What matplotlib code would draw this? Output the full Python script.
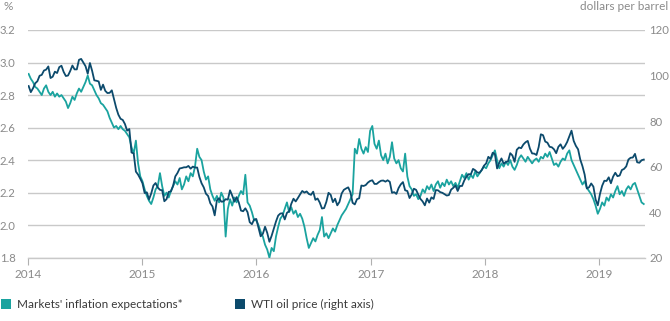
import pandas as pd
import matplotlib.pyplot as plt
import matplotlib.dates as mdates
from matplotlib.patches import Rectangle

plt.rcParams['font.family'] = ['Lato', 'DejaVu Sans']

TEAL = "#1aa39f"
NAVY = "#0c4a6c"
GRID = "#c9c9c9"
TICK = "#8a8a8a"

# weekly readings (Fridays), market-implied inflation expectations, %
infl_2014 = [2.93, 2.90, 2.88, 2.85, 2.84, 2.82, 2.80, 2.84, 2.86, 2.82, 2.80, 2.82, 2.79,
             2.81, 2.79, 2.80, 2.78, 2.76, 2.72, 2.75, 2.79, 2.77, 2.81, 2.84, 2.82, 2.85,
             2.88, 2.92, 2.87, 2.86, 2.83, 2.80, 2.78, 2.75, 2.74, 2.72, 2.70, 2.66, 2.63,
             2.60, 2.61, 2.59, 2.61, 2.59, 2.58, 2.56, 2.54, 2.48, 2.44, 2.52, 2.38, 2.30]
infl_2015 = [2.27, 2.22, 2.18, 2.15, 2.13, 2.17, 2.22, 2.24, 2.32, 2.24, 2.18, 2.20, 2.17,
             2.21, 2.24, 2.27, 2.25, 2.29, 2.22, 2.25, 2.30, 2.27, 2.32, 2.30, 2.36, 2.47,
             2.42, 2.40, 2.33, 2.28, 2.30, 2.22, 2.18, 2.15, 2.18, 2.14, 2.20, 2.17, 1.93,
             2.10, 2.16, 2.12, 2.17, 2.14, 2.18, 2.21, 2.19, 2.31, 2.14, 2.12, 2.08, 2.03]
infl_2016 = [2.03, 2.00, 1.96, 1.93, 1.88, 1.85, 1.80, 1.86, 1.84, 1.93, 1.99, 2.04, 2.06,
             2.10, 2.14, 2.08, 2.11, 2.07, 2.09, 2.05, 2.07, 2.04, 1.99, 1.92, 1.86, 1.89,
             1.92, 1.90, 1.94, 1.97, 2.05, 1.93, 1.95, 1.92, 1.95, 1.98, 1.96, 2.00, 2.03,
             2.06, 2.08, 2.10, 2.13, 2.16, 2.19, 2.47, 2.44, 2.53, 2.47, 2.44, 2.48, 2.45, 2.58]
infl_2017 = [2.61, 2.50, 2.47, 2.52, 2.43, 2.40, 2.44, 2.38, 2.42, 2.51, 2.41, 2.38, 2.40,
             2.35, 2.33, 2.44, 2.30, 2.24, 2.22, 2.18, 2.19, 2.16, 2.18, 2.22, 2.20, 2.24,
             2.22, 2.25, 2.21, 2.25, 2.27, 2.23, 2.26, 2.24, 2.28, 2.25, 2.27, 2.24, 2.26,
             2.23, 2.27, 2.31, 2.29, 2.32, 2.28, 2.31, 2.29, 2.33, 2.30, 2.32, 2.34, 2.36]
infl_2018 = [2.35, 2.38, 2.40, 2.43, 2.46, 2.40, 2.35, 2.38, 2.36, 2.39, 2.37, 2.40, 2.36,
             2.34, 2.37, 2.41, 2.43, 2.41, 2.39, 2.42, 2.40, 2.38, 2.40, 2.41, 2.39, 2.42,
             2.41, 2.44, 2.42, 2.45, 2.41, 2.37, 2.38, 2.36, 2.39, 2.41, 2.40, 2.44, 2.46,
             2.40, 2.37, 2.34, 2.31, 2.28, 2.25, 2.27, 2.23, 2.21, 2.19, 2.16, 2.12, 2.07]
infl_2019 = [2.10, 2.14, 2.12, 2.17, 2.15, 2.19, 2.17, 2.21, 2.24, 2.19, 2.21, 2.18, 2.22,
             2.24, 2.22, 2.25, 2.26, 2.22, 2.18, 2.14, 2.13]

# weekly WTI closes, dollars per barrel
wti_2014 = [95.4, 92.7, 94.4, 96.6, 97.5, 99.9, 100.3, 102.2, 102.6, 104.0, 98.9, 99.5, 101.7,
            101.1, 103.7, 104.3, 101.6, 99.8, 100.0, 102.0, 104.4, 102.7, 102.7, 106.9, 107.3, 105.7,
            104.1, 100.8, 105.5, 102.1, 97.9, 97.7, 97.4, 93.7, 96.0, 93.3, 92.3, 92.4, 93.5,
            89.7, 85.8, 82.8, 81.0, 80.5, 78.7, 75.8, 76.5, 66.2, 65.8, 57.8, 56.5, 54.7]
wti_2015 = [52.7, 48.4, 48.7, 45.6, 48.2, 51.7, 52.8, 50.8, 49.8, 49.6, 44.8, 45.7, 48.9,
            49.1, 51.6, 55.7, 57.2, 59.2, 59.4, 59.7, 59.7, 60.3, 59.1, 60.0, 59.6, 59.6,
            55.5, 52.7, 50.9, 48.1, 47.1, 43.9, 42.5, 38.6, 45.2, 46.1, 44.6, 44.7, 45.7,
            45.5, 49.6, 47.3, 44.6, 46.6, 44.3, 40.7, 40.4, 41.7, 40.0, 35.6, 34.7, 36.8]
wti_2016 = [37.0, 33.2, 29.4, 30.5, 33.6, 30.9, 27.0, 29.6, 32.8, 35.9, 38.5, 39.4, 39.5,
            36.8, 39.7, 40.4, 43.7, 45.9, 44.7, 46.2, 47.8, 49.3, 48.6, 49.1, 48.0, 47.6,
            49.0, 45.4, 46.0, 44.2, 41.6, 41.8, 44.5, 48.5, 47.6, 44.4, 45.9, 43.0, 44.5,
            48.2, 49.8, 50.4, 50.9, 48.7, 44.1, 43.4, 45.7, 46.1, 51.7, 51.5, 51.9, 53.0, 53.7]
wti_2017 = [54.0, 52.4, 52.4, 53.2, 53.8, 53.9, 53.4, 54.0, 53.3, 48.5, 48.8, 48.0, 50.6,
            52.2, 53.2, 49.6, 49.3, 46.2, 47.8, 50.3, 49.8, 47.7, 45.8, 44.7, 43.0, 46.0,
            44.2, 46.5, 45.8, 49.7, 49.6, 48.8, 48.5, 47.9, 47.3, 47.5, 49.9, 50.7, 51.7,
            49.3, 51.5, 51.5, 53.9, 55.6, 56.7, 56.6, 59.0, 58.4, 57.4, 57.3, 58.5, 60.4]
wti_2018 = [61.4, 64.3, 63.4, 66.1, 65.5, 59.2, 61.7, 63.6, 61.3, 62.0, 62.3, 65.9, 64.9,
            62.1, 67.4, 68.4, 68.1, 69.7, 70.7, 71.3, 67.9, 65.8, 65.7, 65.1, 68.6, 74.2,
            73.8, 71.0, 70.5, 68.7, 68.5, 67.6, 65.9, 68.7, 69.8, 67.8, 69.0, 70.8, 73.3,
            75.8, 71.3, 69.1, 67.6, 63.1, 60.2, 56.5, 50.4, 50.9, 52.6, 51.2, 45.6, 43.0]
wti_2019 = [48.0, 51.6, 53.8, 53.7, 55.3, 52.7, 55.6, 57.3, 55.8, 56.1, 58.5, 59.0, 60.1,
            63.1, 63.9, 64.0, 65.6, 61.9, 61.7, 62.8, 63.1]

first_fridays = {2014: "2014-01-03", 2015: "2015-01-02", 2016: "2016-01-01",
                 2017: "2017-01-06", 2018: "2018-01-05", 2019: "2019-01-04"}


def weekly(yearly):
    parts = []
    for year, vals in yearly.items():
        idx = pd.date_range(first_fridays[year], periods=len(vals), freq="7D")
        parts.append(pd.Series(vals, index=idx))
    return pd.concat(parts)


infl = weekly({2014: infl_2014, 2015: infl_2015, 2016: infl_2016,
               2017: infl_2017, 2018: infl_2018, 2019: infl_2019})
wti = weekly({2014: wti_2014, 2015: wti_2015, 2016: wti_2016,
              2017: wti_2017, 2018: wti_2018, 2019: wti_2019})

fig = plt.figure(figsize=(6.7, 3.21), dpi=100)
ax = fig.add_axes([28 / 670, 1 - 257.7 / 321, 617 / 670, 227.7 / 321])
ax2 = ax.twinx()

ax.plot(infl.index, infl.values, color=TEAL, lw=1.3, zorder=3)
ax2.plot(wti.index, wti.values, color=NAVY, lw=1.3)

ax.set_xlim(pd.Timestamp("2014-01-01"), pd.Timestamp("2019-05-28"))
ax.set_ylim(1.8, 3.2)
ax.set_yticks([1.8, 2.0, 2.2, 2.4, 2.6, 2.8, 3.0, 3.2])
ax.yaxis.set_major_formatter(plt.FormatStrFormatter("%.1f"))
ax2.set_ylim(20, 120)
ax2.set_yticks(range(20, 121, 20))

ax.xaxis.set_major_locator(mdates.YearLocator())
ax.xaxis.set_major_formatter(mdates.DateFormatter("%Y"))

ax.grid(axis="y", color=GRID, lw=1.0)
ax.set_axisbelow(True)
for a in (ax, ax2):
    for side in ("top", "right", "left"):
        a.spines[side].set_visible(False)
ax2.spines["bottom"].set_visible(False)
ax.spines["bottom"].set_color(GRID)
ax.spines["bottom"].set_linewidth(1.0)

ax.tick_params(axis="y", length=0, pad=9, labelsize=8.2, labelcolor=TICK)
ax.tick_params(axis="x", length=5, width=0.8, color="#b0b0b0", pad=3,
               labelsize=8.5, labelcolor=TICK)
ax2.tick_params(axis="y", length=0, pad=3, labelsize=8.2, labelcolor=TICK)

fig.text(3 / 670, 1 - 6 / 321, "%", ha="left", va="center", fontsize=8.5, color=TICK)
fig.text(668 / 670, 1 - 7 / 321, "dollars per barrel", ha="right", va="center",
         fontsize=8.5, color=TICK)

# legend
leg_y = 1 - 304 / 321
for x0, col, label in [(1, TEAL, "Markets' inflation expectations*"),
                       (235, NAVY, "WTI oil price (right axis)")]:
    fig.add_artist(Rectangle((x0 / 670, 1 - 309 / 321), 10 / 670, 10 / 321,
                             transform=fig.transFigure, color=col, lw=0))
    fig.text((x0 + 16) / 670, leg_y, label, ha="left", va="center",
             fontsize=8.5, color="#3a3a3a")

fig.savefig("out.png", dpi=100)
